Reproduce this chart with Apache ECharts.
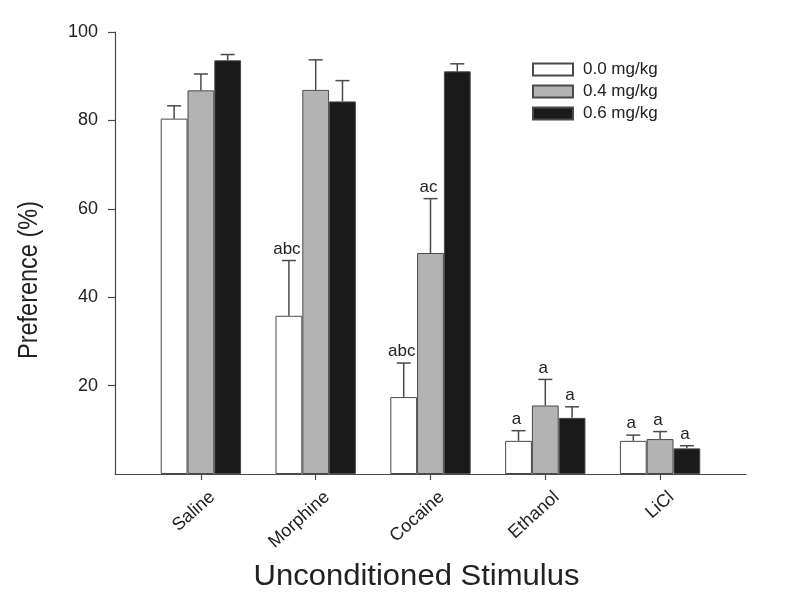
<!DOCTYPE html>
<html>
<head>
<meta charset="utf-8">
<script src="https://cdn.jsdelivr.net/npm/echarts@6/dist/echarts.min.js"></script>
<style>html,body{margin:0;padding:0;background:#fff;}#c{width:800px;height:614px;}</style>
</head>
<body>
<div id="c"></div>
<script>
const categories = ['Saline', 'Morphine', 'Cocaine', 'Ethanol', 'LiCl'];
const seriesNames = ['0.0 mg/kg', '0.4 mg/kg', '0.6 mg/kg'];
const means00 = [80.4, 35.8, 17.4, 7.5, 7.5];
const means04 = [86.8, 86.9, 50.0, 15.5, 7.9];
const means06 = [93.6, 84.3, 91.1, 12.7, 5.8];
const err00 = [2.9, 12.5, 7.7, 2.3, 1.3];
const err04 = [3.7, 6.8, 12.3, 5.9, 1.7];
const err06 = [1.3, 4.7, 1.7, 2.5, 0.6];
const labels00 = ['', 'abc', 'abc', 'a', 'a'];
const labels04 = ['', '', 'ac', 'a', 'a'];
const labels06 = ['', '', '', 'a', 'a'];
const yTicks = [20, 40, 60, 80, 100];

const means = [means00, means04, means06];
const errs = [err00, err04, err06];
const labels = [labels00, labels04, labels06];
const fills = ['#ffffff', '#b3b3b3', '#1a1a1a'];
const FONT = '"Liberation Sans", Arial, sans-serif';
const TXT = '#222';

const chart = echarts.init(document.getElementById('c'));

const series = [];
for (let k = 0; k < 3; k++) {
  series.push({
    type: 'bar', name: seriesNames[k], xAxisIndex: 0, yAxisIndex: 0,
    data: means[k], barGap: '0%', barCategoryGap: '30%',
    itemStyle: { color: fills[k], borderColor: '#4a4a4a', borderWidth: 1 },
    emphasis: { disabled: true }, z: 2
  });
}
for (let k = 0; k < 3; k++) {
  series.push({
    type: 'custom', xAxisIndex: 0, yAxisIndex: 0, z: 3, silent: true,
    data: means[k].map((m, i) => [i, m, errs[k][i]]),
    renderItem: function (params, api) {
      const i = api.value(0), m = api.value(1), e = api.value(2);
      const base = api.coord([i, m]);
      const top = api.coord([i, m + e]);
      const band = api.size([1, 0])[0];
      const bw = band * 0.7 / 3;
      const x = base[0] + (k - 1) * bw;
      const st = { stroke: '#4a4a4a', lineWidth: 1.5 };
      const children = [
        { type: 'line', shape: { x1: x, y1: base[1], x2: x, y2: top[1] }, style: st },
        { type: 'line', shape: { x1: x - 7, y1: top[1], x2: x + 7, y2: top[1] }, style: st }
      ];
      const lab = labels[k][params.dataIndex];
      if (lab) {
        children.push({ type: 'text', x: x - 2, y: top[1] - 3,
          style: { text: lab, fill: TXT, font: '17px ' + FONT, align: 'center', verticalAlign: 'bottom' } });
      }
      return { type: 'group', children: children };
    }
  });
}

chart.setOption({
  animation: false,
  backgroundColor: '#fff',
  grid: [
    { left: 143.5, right: 82.5, top: 32, bottom: 140 },
    { left: 115, right: 54, top: 32, bottom: 140 }
  ],
  legend: {
    orient: 'vertical', left: 527, top: 56, itemWidth: 40, itemHeight: 12, itemGap: 5,
    icon: 'rect', data: seriesNames, selectedMode: false,
    textStyle: { fontFamily: FONT, fontSize: 17, color: TXT, padding: [0, 0, 0, 5] }
  },
  xAxis: [
    { type: 'category', gridIndex: 0, data: categories, boundaryGap: true,
      axisLine: { show: false },
      axisTick: { show: true, alignWithLabel: true, length: 6, lineStyle: { color: '#4a4a4a', width: 1.2 } },
      axisLabel: { rotate: 42, fontFamily: FONT, fontSize: 18, color: TXT, margin: 8,
        verticalAlign: 'top', padding: [8, 0, 0, 0] } },
    { type: 'value', gridIndex: 1, min: 0, max: 1,
      axisLine: { show: true, onZero: false, lineStyle: { color: '#4a4a4a', width: 1.2 } },
      axisTick: { show: false }, axisLabel: { show: false }, splitLine: { show: false } }
  ],
  yAxis: [
    { type: 'value', gridIndex: 0, min: 0, max: 100, show: false, splitLine: { show: false } },
    { type: 'value', gridIndex: 1, min: 0, max: 100, interval: 20,
      axisLine: { show: true, lineStyle: { color: '#4a4a4a', width: 1.2 } },
      axisTick: { show: true, length: 7, customValues: yTicks, lineStyle: { color: '#4a4a4a', width: 1.2 } },
      axisLabel: { customValues: yTicks, fontFamily: FONT, fontSize: 18, color: TXT, margin: 17 },
      splitLine: { show: false } }
  ],
  graphic: [
    { type: 'text', x: 30, y: 280, rotation: Math.PI / 2, scaleX: 0.87,
      style: { text: 'Preference (%)', font: '27px ' + FONT, fill: TXT, align: 'center', verticalAlign: 'middle' } },
    { type: 'text', x: 416.5, y: 577, scaleX: 1.07,
      style: { text: 'Unconditioned Stimulus', font: '29px ' + FONT, fill: TXT, align: 'center', verticalAlign: 'middle' } }
  ],
  series: series
});
</script>
</body>
</html>
